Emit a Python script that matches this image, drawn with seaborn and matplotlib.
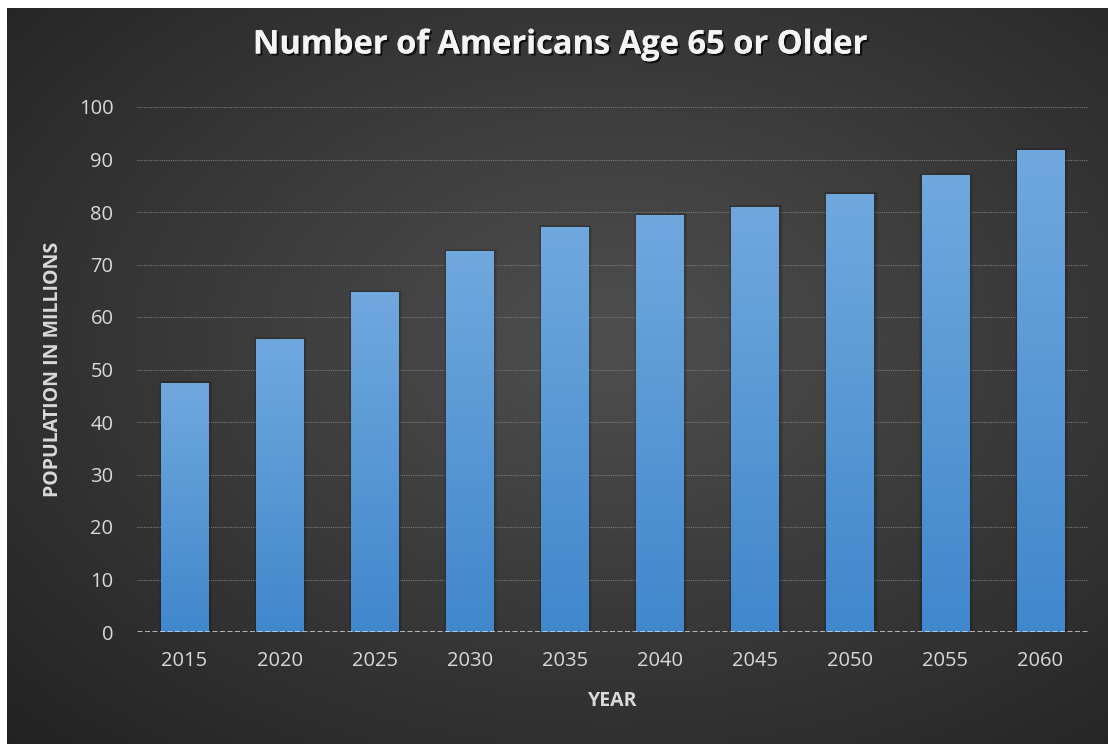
import numpy as np
import pandas as pd
import matplotlib
matplotlib.use("Agg")
import matplotlib.pyplot as plt
import matplotlib.patheffects as pe
import seaborn as sns

years = ["2015", "2020", "2025", "2030", "2035", "2040", "2045", "2050", "2055", "2060"]
population = [47.5, 55.8, 64.8, 72.6, 77.2, 79.5, 81.0, 83.5, 87.0, 91.9]
yticks = [0, 10, 20, 30, 40, 50, 60, 70, 80, 90, 100]

df = pd.DataFrame({"year": years, "pop": population})

sns.set_theme(style="dark")
plt.rcParams["font.family"] = ["Open Sans", "DejaVu Sans"]

W, H = 1108, 744
fig = plt.figure(figsize=(W / 100, H / 100), dpi=100, facecolor="white")

# radial dark background
bg = fig.add_axes([7 / W, 0, 1 - 7 / W, 1 - 8 / H], zorder=-5)
yy, xx = np.mgrid[0:1:400j, 0:1:600j]
r = np.sqrt(((xx - 0.55) / 0.8) ** 2 + ((yy - 0.55) / 0.8) ** 2)
shade = 0.31 - 0.18 * np.clip(r, 0, 1.2)
bg.imshow(np.dstack([shade, shade, shade]), aspect="auto", extent=[0, 1, 0, 1],
          interpolation="bilinear", origin="lower")
bg.axis("off")

ax = fig.add_axes([137 / W, 1 - 632 / H, (1088 - 137) / W, (632 - 107) / H])
ax.set_facecolor("none")

sns.barplot(data=df, x="year", y="pop", color="#5b9bd5", width=0.5, ax=ax,
            saturation=1, zorder=3, edgecolor="none", linewidth=0)

# gradient fill and soft shadow per bar
grad = np.linspace(0, 1, 256).reshape(-1, 1)
top = np.array([0.44, 0.66, 0.87])
bot = np.array([0.25, 0.53, 0.80])
img = top[None, None, :] * (1 - grad[:, :, None]) + bot[None, None, :] * grad[:, :, None]
for p in list(ax.patches):
    x0, w, h = p.get_x(), p.get_width(), p.get_height()
    for k in range(3):
        d = 0.01 * (k + 1)
        shadow = plt.Rectangle((x0 - d + 0.008, -0.6), w + 2 * d, h + 0.6 + d * 12,
                               color="black", alpha=0.08, zorder=2, lw=0)
        ax.add_patch(shadow)
    im = ax.imshow(img, extent=[x0, x0 + w, 0, h], aspect="auto", zorder=4, interpolation="bilinear")
    im.set_clip_path(p)

ax.set_xlim(-0.5, len(years) - 0.5)
ax.set_ylim(0, 100)
ax.set_yticks(yticks)
ax.set_yticklabels([str(t) for t in yticks])

ax.grid(axis="y", color="#7a7a7a", linestyle=(0, (1, 1)), linewidth=0.8, zorder=1)
ax.grid(axis="x", visible=False)
for s in ax.spines.values():
    s.set_visible(False)
ax.axhline(0, color="#dcdcdc", linestyle=(0, (2, 1)), linewidth=1.8, zorder=5)

ax.tick_params(axis="both", colors="#d9d9d9", labelsize=14.5, length=0)
ax.tick_params(axis="y", pad=17)
ax.tick_params(axis="x", pad=14)

ax.set_xlabel("YEAR", color="#d9d9d9", fontsize=14, fontweight="bold", labelpad=14)
ax.set_ylabel("POPULATION IN MILLIONS", color="#d9d9d9", fontsize=14, fontweight="bold")
ax.yaxis.set_label_coords((63 - 137) / 951, 0.5)

title = fig.text(560 / W, 1 - 45 / H, "Number of Americans Age 65 or Older", ha="center", va="center",
                 color="#f4f4f4", fontsize=23.5, fontweight="bold")
title.set_path_effects([pe.withSimplePatchShadow(offset=(1.5, -1.5), shadow_rgbFace="black", alpha=0.7),
                        pe.Normal()])

fig.savefig("out.png", dpi=100, facecolor="white")
